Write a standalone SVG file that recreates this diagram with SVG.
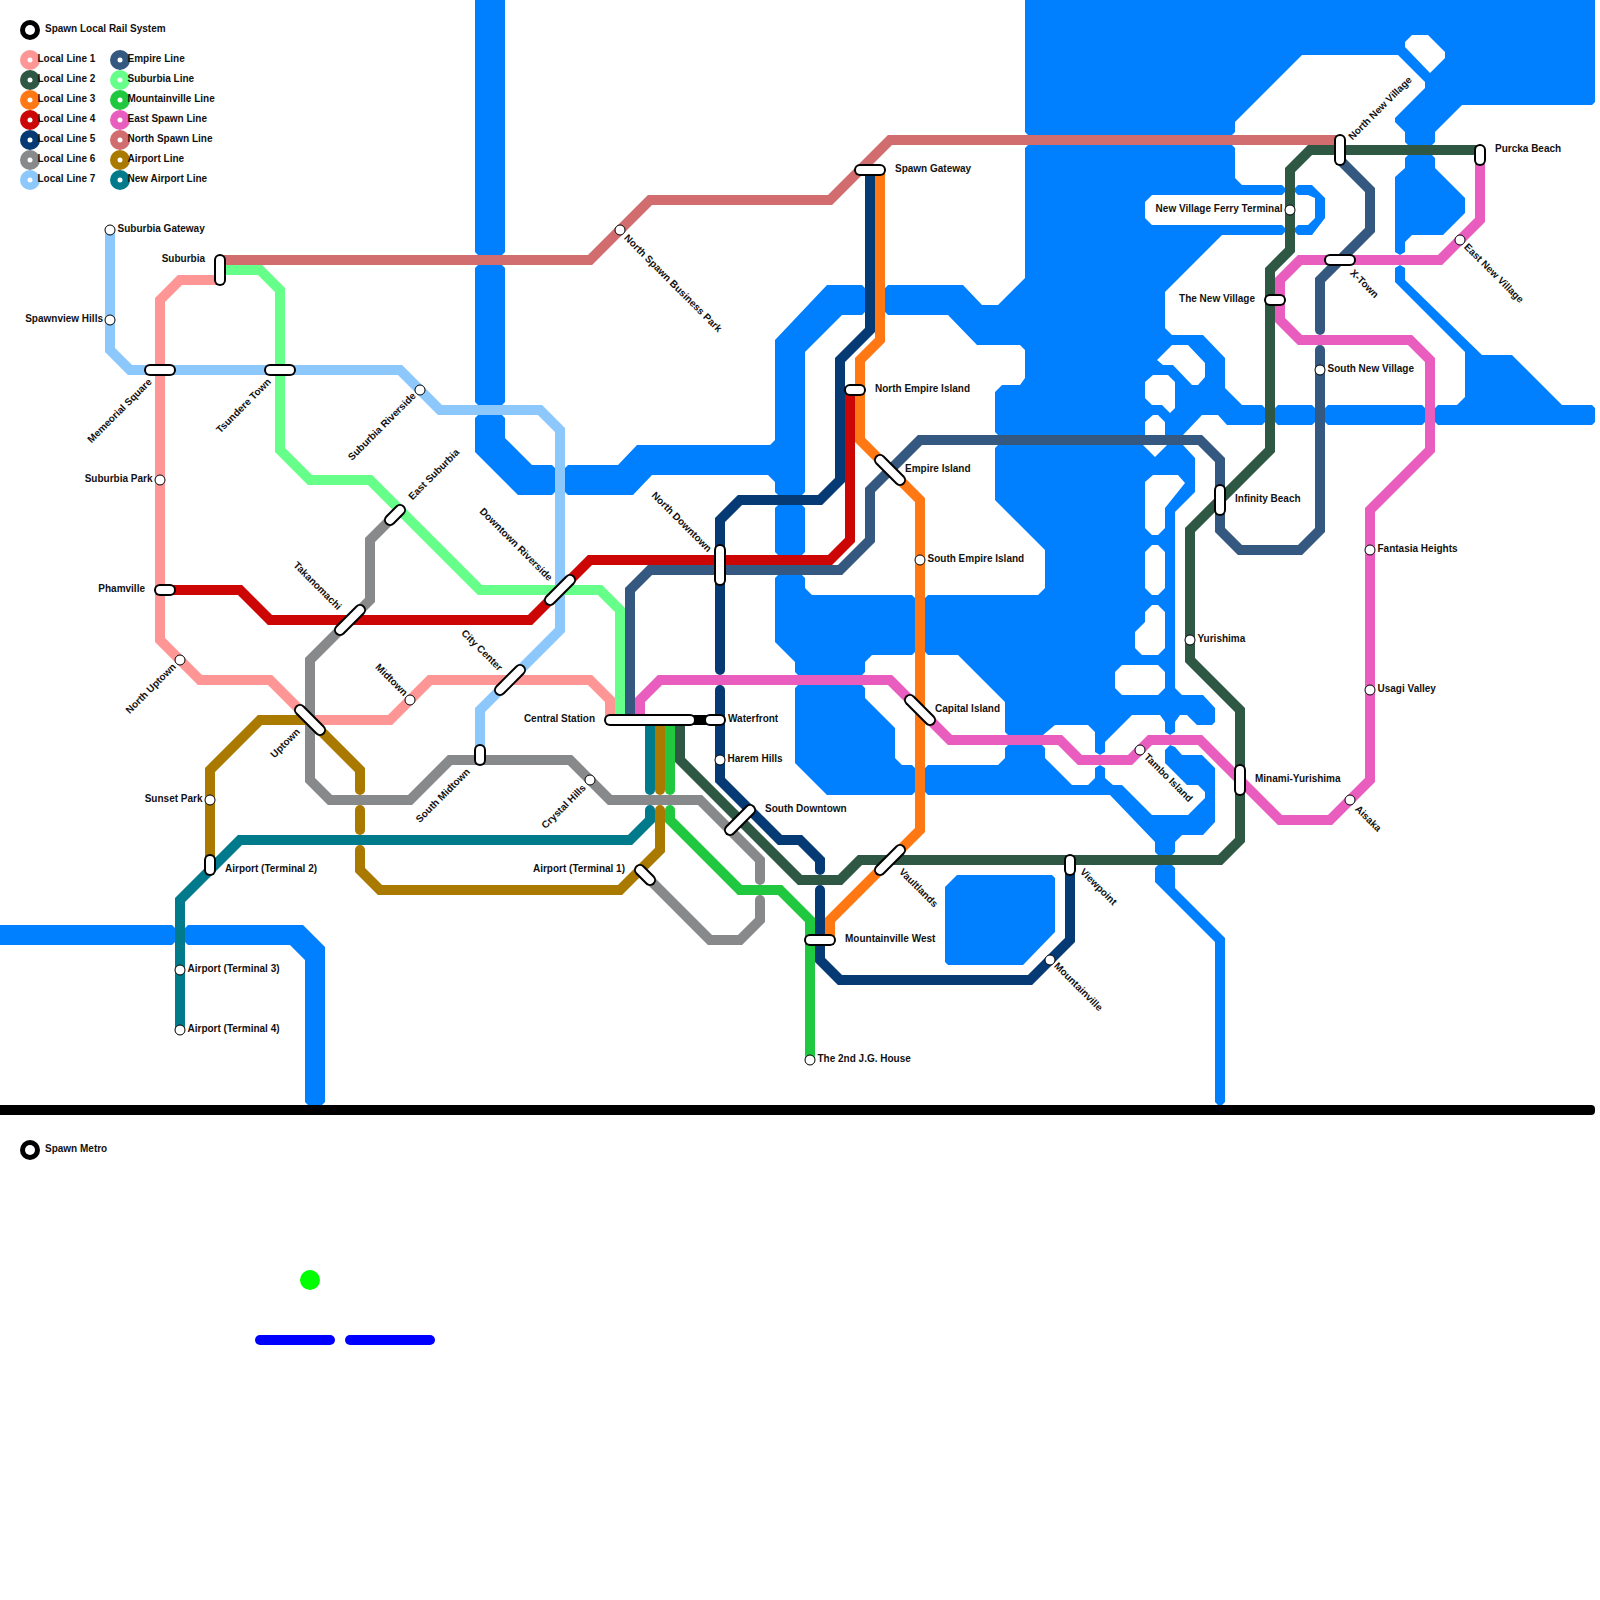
<svg xmlns="http://www.w3.org/2000/svg" width="1600" height="1600" viewBox="0 0 1600 1600">
<style>
.w{fill:#0080ff;fill-rule:evenodd}
.l{fill:none;stroke-width:10;stroke-linecap:round;stroke-linejoin:miter}
.pb{stroke:#000;stroke-width:12;stroke-linecap:round}
.pw{stroke:#fff;stroke-width:8;stroke-linecap:round}
.s{fill:#fff;stroke:#000;stroke-width:1}
text{font-family:"Liberation Sans",Arial,sans-serif;font-size:10px;font-weight:bold;fill:#111}
.e{text-anchor:end}
.d{fill:#fff}
</style>
<rect width="1600" height="1600" fill="#fff"/>
<g id="water">
<path class="w" d="M475 0H505V252L502 255H478L475 252ZM478 265H502L505 268V402L502 405H478L475 402V268Z"/>
<path class="w" d="M478 415H502L505 418V438L532 465H552L555 468V492L552 495H518L475 452V418Z"/>
<path class="w" d="M568 465H618L637 445H770L775 440V340L827 285H862L865 288V312L862 315H842L805 352V492L802 495H778L775 492V482L768 475H652L633 495H568L565 492V468Z"/>
<path class="w" d="M778 505H802L805 508V552L802 555H778L775 552V508Z"/>
<path class="w" d="M778 575H802L805 578V588L812 595H912L915 598V652L912 655H872L865 662V672L862 675H798L795 672V662L775 642V578Z"/>
<path class="w" d="M798 685H862L865 688V698L895 728V758L902 765H912L915 768V792L912 795H827L795 763V688Z"/>
<path class="w" d="M1025 0H1595V102L1592 105H1462L1435 132V142L1432 145H1408L1405 142V132L1395 122V118L1425 88V82L1398 55H1302L1235 122V132L1232 135H1028L1025 132Z M1405 42L1412 35H1428L1445 52V58L1430 73L1405 47Z"/>
<path class="w" d="M1028 145H1232L1235 148V178L1242 185H1282L1285 188V192L1282 195H1152L1145 202V218L1152 225H1282L1285 228V232L1282 235H1222L1165 292V328L1172 335H1203L1225 358V388L1242 405H1262L1265 408V422L1262 425H1227L1218 415H1202L1183 435H1165V422L1158 415H1153L1145 422V435H998L995 432V392L1002 385H1020L1025 378V350L1020 345H977L948 315H888L885 312V288L888 285H963L982 305H998L1025 278V148Z M1145 382L1153 375H1168L1175 382V408L1170 413L1162 405H1152L1145 398Z M1157 360L1172 345H1188L1205 363V377L1198 385H1192L1173 365H1163Z"/>
<path class="w" d="M998 445H1143L1155 457L1167 445H1183L1195 458V492L1175 512V688L1182 695H1203L1215 708V722L1212 725H1197L1187 715H1180L1175 722V732L1170 735L1165 732V722L1160 715H1132L1105 742V752L1100 755L1095 752V732L1088 725H1055L1043 735H1008L1005 732V702L958 655H928L925 652V598L928 595H1038L1045 588V550L995 500V448Z M1145 482L1153 475H1178L1185 483L1165 508V528L1158 535H1152L1145 528Z M1145 552L1152 545H1158L1165 552V588L1158 595H1152L1145 588Z M1145 612L1152 605H1158L1165 612V648L1158 655H1142L1135 648V632L1145 622Z M1115 672L1122 665H1158L1165 672V688L1158 695H1122L1115 688Z"/>
<path class="w" d="M928 765H998L1005 758V748L1008 745H1042L1045 748V758L1072 785H1088L1095 778V768L1100 765L1105 768V778L1113 785H1122L1152 815H1188L1205 798V792L1198 785H1187L1165 763V750L1170 745L1175 747L1182 755H1202L1215 768V822L1203 835H1182L1175 842V852L1172 855H1158L1155 852V842L1110 795H928L925 792V768Z"/>
<path class="w" d="M1158 865H1172L1175 868V888L1225 938V1102L1222 1105H1218L1215 1102V942L1155 882V868Z"/>
<path class="w" d="M945 887L957 875H1052L1055 878V932L1023 965H948L945 962Z"/>
<path class="w" d="M0 925H172L175 928V942L172 945H0Z"/>
<path class="w" d="M188 925H303L325 947V1102L322 1105H308L305 1102V960L290 945H188L185 942V928Z"/>
<path class="w" d="M1408 155H1432L1435 158V168L1465 198V213L1443 235H1412L1405 242V252L1400 255L1395 252V177L1405 168V158Z"/>
<path class="w" d="M1395 268L1400 265L1405 268V280L1482 355H1512L1562 405H1592L1595 408V422L1592 425H1438L1435 422V408L1438 405H1457L1465 397V352L1395 282Z"/>
<path class="w" d="M1278 405H1312L1315 408V422L1312 425H1278L1275 422V408ZM1328 405H1422L1425 408V422L1422 425H1328L1325 422V408Z"/>
<path class="w" d="M1298 185H1312L1325 198V218L1312 235H1298L1295 232V228L1298 225H1308L1315 218V198L1308 195H1298L1295 192V188Z"/>
</g>
<g id="connectors">
<path class="l" stroke="#8cc8fb" d="M110 230V350L130 370H400L440 410H540L560 430V630L480 710V755"/>
<path class="l" stroke="#ff9696" d="M220 280H180L160 300V640L200 680H270L310 720H390L430 680H590L610 700V720"/>
<path class="l" stroke="#66ff8a" d="M225 270H260L280 290V450L310 480H370L480 590H600L620 610V720"/>
<path class="l" stroke="#34587f" d="M630 720V590L650 570H840L870 540V490L920 440H1200L1220 460V530L1240 550H1300L1320 530V350"/>
<path class="l" stroke="#34587f" d="M1320 330V280L1370 230V190L1340 160"/>
<path class="l" stroke="#cc0505" d="M165 590H240L270 620H530L590 560H830L850 540V390"/>
<path class="l" stroke="#053a75" d="M870 170V330L840 360V480L820 500H740L720 520V670"/>
<path class="l" stroke="#053a75" d="M720 690V780L780 840H800L820 860V870"/>
<path class="l" stroke="#053a75" d="M820 890V960L840 980H1030L1070 940V865"/>
<path class="l" stroke="#88898b" d="M395 515L370 540V600L310 660V780L330 800H410L450 760H570L610 800H700L760 860V880"/>
<path class="l" stroke="#88898b" d="M760 900V920L740 940H710L645 875"/>
<path class="l" stroke="#a97900" d="M210 865V770L260 720H310L360 770V790"/>
<path class="l" stroke="#a97900" d="M360 810V830"/>
<path class="l" stroke="#a97900" d="M360 850V870L380 890H620L660 850V810"/>
<path class="l" stroke="#a97900" d="M660 790V720"/>
<path class="l" stroke="#017b8b" d="M180 1030V900L240 840H630L650 820V810"/>
<path class="l" stroke="#017b8b" d="M650 790V720"/>
<path class="l" stroke="#1fc83e" d="M670 720V790"/>
<path class="l" stroke="#1fc83e" d="M670 810V820L740 890H780L810 920V1060"/>
<path class="l" stroke="#ff7813" d="M880 170V340L860 360V440L920 500V830L830 920V940"/>
<path class="l" stroke="#2e5744" d="M1480 150H1310L1290 170V250L1270 270V450L1190 530V660L1240 710V840L1220 860H860L840 880H800L680 760V720"/>
<path class="l" stroke="#e95dbe" d="M640 720V700L660 680H890L950 740H1060L1080 760H1130L1150 740H1200L1280 820H1330L1370 780V510L1430 450V360L1410 340H1300L1280 320V280L1300 260H1440L1480 220V150"/>
<path class="l" stroke="#d16d6e" d="M220 260H590L650 200H830L890 140H1340"/>
<path class="l" stroke="#000" d="M690 720H710"/>
</g>
<g id="st-memorial-square"><line class="pb" x1="150" y1="370" x2="170" y2="370"/><line class="pw" x1="150" y1="370" x2="170" y2="370"/><text transform="translate(150,380) rotate(-45)" y="3.5" class="e">Memeorial Square</text></g>
<g id="st-tsundere-town"><line class="pb" x1="270" y1="370" x2="290" y2="370"/><line class="pw" x1="270" y1="370" x2="290" y2="370"/><text transform="translate(269,380) rotate(-45)" y="3.5" class="e">Tsundere Town</text></g>
<g id="st-suburbia"><line class="pb" x1="220" y1="260" x2="220" y2="280"/><line class="pw" x1="220" y1="260" x2="220" y2="280"/><text x="205" y="262" class="e">Suburbia</text></g>
<g id="st-phamville"><line class="pb" x1="160" y1="590" x2="170" y2="590"/><line class="pw" x1="160" y1="590" x2="170" y2="590"/><text x="145" y="592" class="e">Phamville</text></g>
<g id="st-takanomachi"><line class="pb" x1="340" y1="630" x2="360" y2="610"/><line class="pw" x1="340" y1="630" x2="360" y2="610"/><text transform="translate(340,608) rotate(45)" y="3.5" class="e">Takanomachi</text></g>
<g id="st-east-suburbia"><line class="pb" x1="390" y1="520" x2="400" y2="510"/><line class="pw" x1="390" y1="520" x2="400" y2="510"/><text transform="translate(410,498) rotate(-45)" y="3.5">East Suburbia</text></g>
<g id="st-downtown-riverside"><line class="pb" x1="550" y1="600" x2="570" y2="580"/><line class="pw" x1="550" y1="600" x2="570" y2="580"/><text transform="translate(551,579) rotate(45)" y="3.5" class="e">Downtown Riverside</text></g>
<g id="st-city-center"><line class="pb" x1="500" y1="690" x2="520" y2="670"/><line class="pw" x1="500" y1="690" x2="520" y2="670"/><text transform="translate(501,669) rotate(45)" y="3.5" class="e">City Center</text></g>
<g id="st-uptown"><line class="pb" x1="300" y1="710" x2="320" y2="730"/><line class="pw" x1="300" y1="710" x2="320" y2="730"/><text transform="translate(298,730) rotate(-45)" y="3.5" class="e">Uptown</text></g>
<g id="st-south-midtown"><line class="pb" x1="480" y1="750" x2="480" y2="760"/><line class="pw" x1="480" y1="750" x2="480" y2="760"/><text transform="translate(468,770) rotate(-45)" y="3.5" class="e">South Midtown</text></g>
<g id="st-airport-t2"><line class="pb" x1="210" y1="860" x2="210" y2="870"/><line class="pw" x1="210" y1="860" x2="210" y2="870"/><text x="225" y="872">Airport (Terminal 2)</text></g>
<g id="st-airport-t1"><line class="pb" x1="640" y1="870" x2="650" y2="880"/><line class="pw" x1="640" y1="870" x2="650" y2="880"/><text x="625" y="872" class="e">Airport (Terminal 1)</text></g>
<g id="st-central-station"><line class="pb" x1="610" y1="720" x2="690" y2="720"/><line class="pw" x1="610" y1="720" x2="690" y2="720"/><text x="595" y="722" class="e">Central Station</text></g>
<g id="st-waterfront"><line class="pb" x1="710" y1="720" x2="720" y2="720"/><line class="pw" x1="710" y1="720" x2="720" y2="720"/><text x="728" y="722">Waterfront</text></g>
<g id="st-north-downtown"><line class="pb" x1="720" y1="550" x2="720" y2="580"/><line class="pw" x1="720" y1="550" x2="720" y2="580"/><text transform="translate(710,550) rotate(45)" y="3.5" class="e">North Downtown</text></g>
<g id="st-south-downtown"><line class="pb" x1="730" y1="830" x2="750" y2="810"/><line class="pw" x1="730" y1="830" x2="750" y2="810"/><text x="765" y="812">South Downtown</text></g>
<g id="st-mountainville-west"><line class="pb" x1="810" y1="940" x2="830" y2="940"/><line class="pw" x1="810" y1="940" x2="830" y2="940"/><text x="845" y="942">Mountainville West</text></g>
<g id="st-vaultlands"><line class="pb" x1="880" y1="870" x2="900" y2="850"/><line class="pw" x1="880" y1="870" x2="900" y2="850"/><text transform="translate(901,870) rotate(45)" y="3.5">Vaultlands</text></g>
<g id="st-capital-island"><line class="pb" x1="910" y1="700" x2="930" y2="720"/><line class="pw" x1="910" y1="700" x2="930" y2="720"/><text x="935" y="712">Capital Island</text></g>
<g id="st-empire-island"><line class="pb" x1="880" y1="460" x2="900" y2="480"/><line class="pw" x1="880" y1="460" x2="900" y2="480"/><text x="905" y="472">Empire Island</text></g>
<g id="st-north-empire-island"><line class="pb" x1="850" y1="390" x2="860" y2="390"/><line class="pw" x1="850" y1="390" x2="860" y2="390"/><text x="875" y="392">North Empire Island</text></g>
<g id="st-spawn-gateway"><line class="pb" x1="860" y1="170" x2="880" y2="170"/><line class="pw" x1="860" y1="170" x2="880" y2="170"/><text x="895" y="172">Spawn Gateway</text></g>
<g id="st-north-new-village"><line class="pb" x1="1340" y1="140" x2="1340" y2="160"/><line class="pw" x1="1340" y1="140" x2="1340" y2="160"/><text transform="translate(1350,138) rotate(-45)" y="3.5">North New Village</text></g>
<g id="st-purcka-beach"><line class="pb" x1="1480" y1="150" x2="1480" y2="160"/><line class="pw" x1="1480" y1="150" x2="1480" y2="160"/><text x="1495" y="152">Purcka Beach</text></g>
<g id="st-x-town"><line class="pb" x1="1330" y1="260" x2="1350" y2="260"/><line class="pw" x1="1330" y1="260" x2="1350" y2="260"/><text transform="translate(1352,271) rotate(45)" y="3.5">X-Town</text></g>
<g id="st-the-new-village"><line class="pb" x1="1270" y1="300" x2="1280" y2="300"/><line class="pw" x1="1270" y1="300" x2="1280" y2="300"/><text x="1255" y="302" class="e">The New Village</text></g>
<g id="st-infinity-beach"><line class="pb" x1="1220" y1="490" x2="1220" y2="510"/><line class="pw" x1="1220" y1="490" x2="1220" y2="510"/><text x="1235" y="502">Infinity Beach</text></g>
<g id="st-minami-yurishima"><line class="pb" x1="1240" y1="770" x2="1240" y2="790"/><line class="pw" x1="1240" y1="770" x2="1240" y2="790"/><text x="1255" y="782">Minami-Yurishima</text></g>
<g id="st-viewpoint"><line class="pb" x1="1070" y1="860" x2="1070" y2="870"/><line class="pw" x1="1070" y1="860" x2="1070" y2="870"/><text transform="translate(1082,870) rotate(45)" y="3.5">Viewpoint</text></g>
<g id="st-suburbia-gateway"><circle class="s" cx="110" cy="230" r="5"/><text x="117.500" y="232">Suburbia Gateway</text></g>
<g id="st-spawnview-hills"><circle class="s" cx="110" cy="320" r="5"/><text x="103" y="322" class="e">Spawnview Hills</text></g>
<g id="st-suburbia-park"><circle class="s" cx="160" cy="480" r="5"/><text x="152.500" y="482" class="e">Suburbia Park</text></g>
<g id="st-north-uptown"><circle class="s" cx="180" cy="660" r="5"/><text transform="translate(174,665) rotate(-45)" y="3.5" class="e">North Uptown</text></g>
<g id="st-suburbia-riverside"><circle class="s" cx="420" cy="390" r="5"/><text transform="translate(414,394) rotate(-45)" y="3.5" class="e">Suburbia Riverside</text></g>
<g id="st-north-spawn-business-park"><circle class="s" cx="620" cy="230" r="5"/><text transform="translate(626,236) rotate(45)" y="3.5">North Spawn Business Park</text></g>
<g id="st-midtown"><circle class="s" cx="410" cy="700" r="5"/><text transform="translate(406,694) rotate(45)" y="3.5" class="e">Midtown</text></g>
<g id="st-crystal-hills"><circle class="s" cx="590" cy="780" r="5"/><text transform="translate(584,786) rotate(-45)" y="3.5" class="e">Crystal Hills</text></g>
<g id="st-sunset-park"><circle class="s" cx="210" cy="800" r="5"/><text x="202.500" y="802" class="e">Sunset Park</text></g>
<g id="st-airport-t3"><circle class="s" cx="180" cy="970" r="5"/><text x="187.500" y="972">Airport (Terminal 3)</text></g>
<g id="st-airport-t4"><circle class="s" cx="180" cy="1030" r="5"/><text x="187.500" y="1032">Airport (Terminal 4)</text></g>
<g id="st-south-empire-island"><circle class="s" cx="920" cy="560" r="5"/><text x="927.500" y="562">South Empire Island</text></g>
<g id="st-harem-hills"><circle class="s" cx="720" cy="760" r="5"/><text x="727.500" y="762">Harem Hills</text></g>
<g id="st-mountainville"><circle class="s" cx="1050" cy="960" r="5"/><text transform="translate(1056,964) rotate(45)" y="3.5">Mountainville</text></g>
<g id="st-tambo-island"><circle class="s" cx="1140" cy="750" r="5"/><text transform="translate(1146,755) rotate(45)" y="3.5">Tambo Island</text></g>
<g id="st-2nd-jg-house"><circle class="s" cx="810" cy="1060" r="5"/><text x="817.500" y="1062">The 2nd J.G. House</text></g>
<g id="st-ferry-terminal"><circle class="s" cx="1290" cy="210" r="5"/><text x="1282.500" y="212" class="e">New Village Ferry Terminal</text></g>
<g id="st-south-new-village"><circle class="s" cx="1320" cy="370" r="5"/><text x="1327.500" y="372">South New Village</text></g>
<g id="st-east-new-village"><circle class="s" cx="1460" cy="240" r="5"/><text transform="translate(1466,245) rotate(45)" y="3.5">East New Village</text></g>
<g id="st-yurishima"><circle class="s" cx="1190" cy="640" r="5"/><text x="1197.500" y="642">Yurishima</text></g>
<g id="st-fantasia-heights"><circle class="s" cx="1370" cy="550" r="5"/><text x="1377.500" y="552">Fantasia Heights</text></g>
<g id="st-usagi-valley"><circle class="s" cx="1370" cy="690" r="5"/><text x="1377.500" y="692">Usagi Valley</text></g>
<g id="st-aisaka"><circle class="s" cx="1350" cy="800" r="5"/><text transform="translate(1357,807) rotate(45)" y="3.5">Aisaka</text></g>
<g id="legend">
<circle cx="30" cy="30" r="10"/><circle class="d" cx="30" cy="30" r="5"/><text x="45" y="32">Spawn Local Rail System</text>
<circle cx="30" cy="60" r="10" fill="#ff9696"/><circle class="d" cx="30" cy="60" r="2.5"/><text x="37.500" y="62">Local Line 1</text>
<circle cx="30" cy="80" r="10" fill="#2e5744"/><circle class="d" cx="30" cy="80" r="2.5"/><text x="37.500" y="82">Local Line 2</text>
<circle cx="30" cy="100" r="10" fill="#ff7813"/><circle class="d" cx="30" cy="100" r="2.5"/><text x="37.500" y="102">Local Line 3</text>
<circle cx="30" cy="120" r="10" fill="#cc0505"/><circle class="d" cx="30" cy="120" r="2.5"/><text x="37.500" y="122">Local Line 4</text>
<circle cx="30" cy="140" r="10" fill="#053a75"/><circle class="d" cx="30" cy="140" r="2.5"/><text x="37.500" y="142">Local Line 5</text>
<circle cx="30" cy="160" r="10" fill="#88898b"/><circle class="d" cx="30" cy="160" r="2.5"/><text x="37.500" y="162">Local Line 6</text>
<circle cx="30" cy="180" r="10" fill="#8cc8fb"/><circle class="d" cx="30" cy="180" r="2.5"/><text x="37.500" y="182">Local Line 7</text>
<circle cx="120" cy="60" r="10" fill="#34587f"/><circle class="d" cx="120" cy="60" r="2.5"/><text x="127.500" y="62">Empire Line</text>
<circle cx="120" cy="80" r="10" fill="#66ff8a"/><circle class="d" cx="120" cy="80" r="2.5"/><text x="127.500" y="82">Suburbia Line</text>
<circle cx="120" cy="100" r="10" fill="#1fc83e"/><circle class="d" cx="120" cy="100" r="2.5"/><text x="127.500" y="102">Mountainville Line</text>
<circle cx="120" cy="120" r="10" fill="#e95dbe"/><circle class="d" cx="120" cy="120" r="2.5"/><text x="127.500" y="122">East Spawn Line</text>
<circle cx="120" cy="140" r="10" fill="#d16d6e"/><circle class="d" cx="120" cy="140" r="2.5"/><text x="127.500" y="142">North Spawn Line</text>
<circle cx="120" cy="160" r="10" fill="#a97900"/><circle class="d" cx="120" cy="160" r="2.5"/><text x="127.500" y="162">Airport Line</text>
<circle cx="120" cy="180" r="10" fill="#017b8b"/><circle class="d" cx="120" cy="180" r="2.5"/><text x="127.500" y="182">New Airport Line</text>
</g>
<g id="lower">
<rect x="-10" y="1105" width="1605" height="10" rx="4"/>
<circle cx="30" cy="1150" r="10"/><circle class="d" cx="30" cy="1150" r="5"/><text x="45" y="1152">Spawn Metro</text>
<circle cx="310" cy="1280" r="10" fill="#00ff00"/>
<line x1="260" y1="1340" x2="330" y2="1340" stroke="#00f" stroke-width="10" stroke-linecap="round"/>
<line x1="350" y1="1340" x2="430" y2="1340" stroke="#00f" stroke-width="10" stroke-linecap="round"/>
</g>
</svg>
